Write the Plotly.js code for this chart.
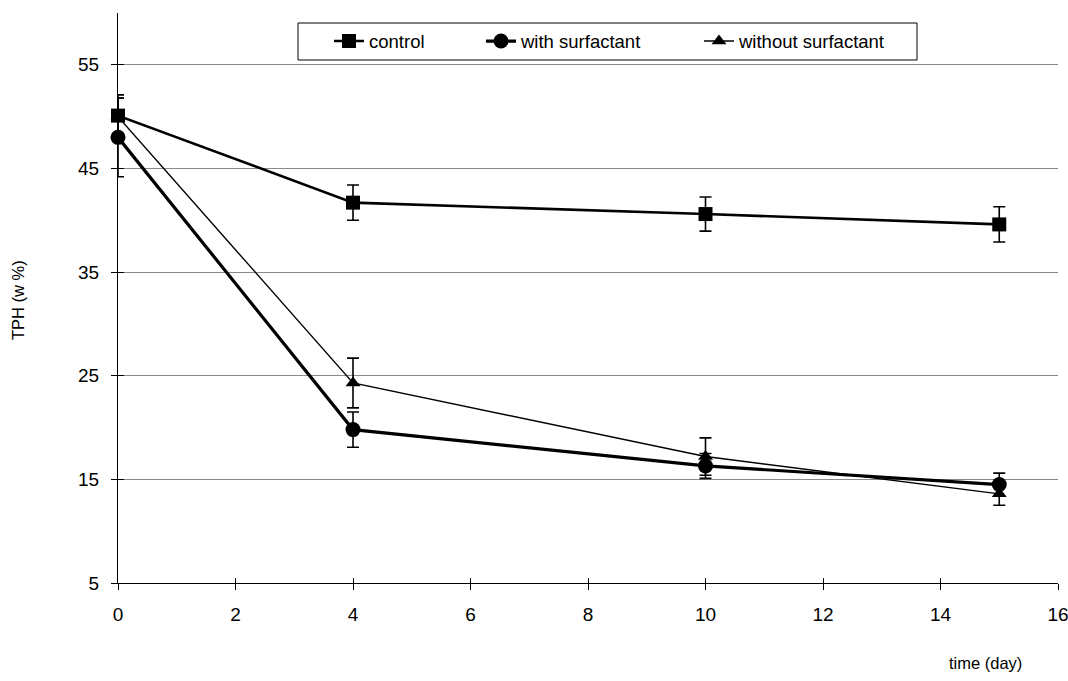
<!DOCTYPE html>
<html>
<head>
<meta charset="utf-8">
<script src="https://cdn.plot.ly/plotly-3.0.1.min.js"></script>
<style>html,body{margin:0;padding:0;background:#fff;}#chart{width:1068px;height:681px;}</style>
</head>
<body>
<div id="chart"></div>
<script>
const days = [0, 4, 10, 15];
const seriesNames = ["control", "with surfactant", "without surfactant"];
const control = [50.1, 41.7, 40.6, 39.6];
const controlErr = [2.0, 1.7, 1.65, 1.7];
const withSurf = [48.0, 19.8, 16.3, 14.5];
const withSurfErr = [3.8, 1.7, 1.2, 1.1];
const withoutSurf = [50.0, 24.3, 17.2, 13.6];
const withoutSurfErr = [1.8, 2.4, 1.8, 1.1];
const xTicks = [0, 2, 4, 6, 8, 10, 12, 14, 16];
const yTicks = [5, 15, 25, 35, 45, 55];
const xRange = [0, 16];
const yRange = [5, 60];

const font = "Liberation Sans, Arial, sans-serif";
const L = 118, R = 1058, T = 13, B = 583;
const px = v => (v - L) / (R - L);
const py = v => 1 - (v - T) / (B - T);

function tr(name, y, err, sym, size, lw, leg) {
  return {
    x: days, y: y, name: name, type: "scatter", mode: "lines+markers",
    legend: leg, cliponaxis: false,
    line: {color: "#000", width: lw},
    marker: {symbol: sym, size: size, color: "#000"},
    error_y: {type: "data", array: err, visible: true, color: "#000", thickness: 1.6, width: 6}
  };
}
const data = [
  tr(seriesNames[0], control, controlErr, "square", 14, 2.6, "legend"),
  tr(seriesNames[1], withSurf, withSurfErr, "circle", 15, 3.2, "legend2"),
  tr(seriesNames[2], withoutSurf, withoutSurfErr, "triangle-up", 13, 1.4, "legend3"),
  // invisible helper so the overlay axes (inner half of the crossing ticks) get drawn
  {x: days, y: control, xaxis: "x2", yaxis: "y2", type: "scatter", mode: "markers",
   marker: {opacity: 0}, showlegend: false, hoverinfo: "skip"}
];
function leg(xpix) {
  return {
    x: px(xpix), y: py(41.5), xanchor: "left", yanchor: "middle",
    bgcolor: "rgba(0,0,0,0)", borderwidth: 0,
    font: {family: font, size: 18.5, color: "#000"}
  };
}
const layout = {
  width: 1068, height: 681,
  margin: {l: L, r: 1068 - R, t: T, b: 681 - B},
  paper_bgcolor: "#fff", plot_bgcolor: "#fff",
  font: {family: font, color: "#000", size: 19},
  showlegend: true,
  legend: leg(329),
  legend2: leg(481),
  legend3: leg(699),
  xaxis: {
    range: xRange, tickvals: xTicks, ticks: "outside", ticklen: 6, tickcolor: "#000",
    ticklabelstandoff: 8, ticklabeloverflow: "allow",
    showline: true, linecolor: "#000", linewidth: 1, showgrid: false, zeroline: false,
    tickfont: {family: font, size: 19}
  },
  xaxis2: {
    overlaying: "x", range: xRange, tickvals: xTicks, ticks: "inside", ticklen: 5, tickcolor: "#000",
    showticklabels: false, showline: false, showgrid: false, zeroline: false, side: "bottom"
  },
  yaxis: {
    range: yRange, tickvals: yTicks, ticks: "outside", ticklen: 6, tickcolor: "#000",
    ticklabelstandoff: 8,
    showline: true, linecolor: "#000", linewidth: 1, showgrid: true, gridcolor: "#8a8a8a",
    gridwidth: 1, zeroline: false, tickfont: {family: font, size: 19}
  },
  yaxis2: {
    overlaying: "y", range: yRange, tickvals: yTicks, ticks: "inside", ticklen: 6, tickcolor: "#000",
    showticklabels: false, showline: false, showgrid: false, zeroline: false, side: "left"
  },
  shapes: [{
    type: "rect", xref: "paper", yref: "paper",
    x0: px(298), x1: px(917), y0: py(60), y1: py(23),
    line: {color: "#000", width: 1}, fillcolor: "rgba(0,0,0,0)", layer: "above"
  }],
  annotations: [
    {text: "time (day)", xref: "paper", yref: "paper", x: px(985), y: py(663),
     showarrow: false, font: {family: font, size: 16.5}, xanchor: "center", yanchor: "middle"},
    {text: "TPH (w %)", xref: "paper", yref: "paper", x: px(18), y: py(300), textangle: -90,
     showarrow: false, font: {family: font, size: 16.5}, xanchor: "center", yanchor: "middle"}
  ]
};
Plotly.newPlot("chart", data, layout, {displayModeBar: false, staticPlot: true});
</script>
</body>
</html>
